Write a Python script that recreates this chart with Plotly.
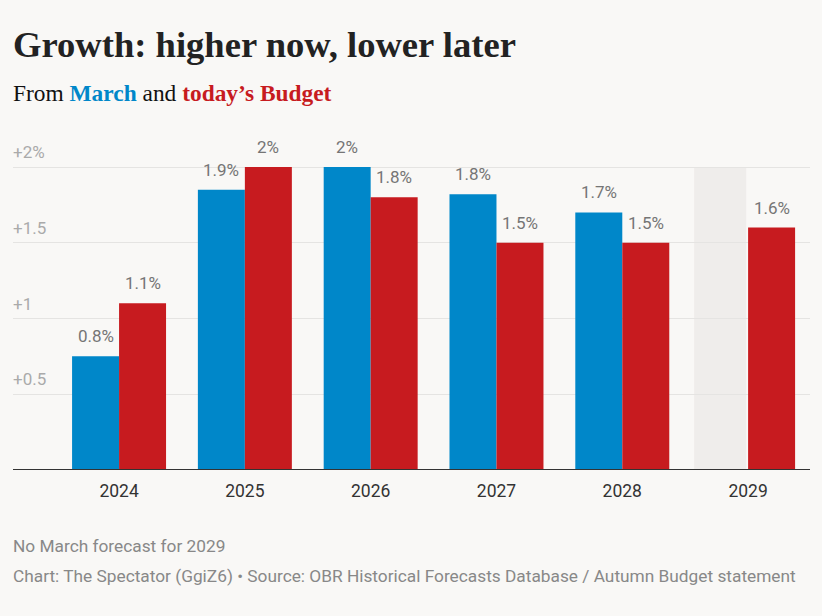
import plotly.graph_objects as go

years = ["2024", "2025", "2026", "2027", "2028", "2029"]
march = [0.75, 1.85, 2.0, 1.82, 1.7, None]
budget = [1.1, 2.0, 1.8, 1.5, 1.5, 1.6]
y_ticks = [0.5, 1.0, 1.5, 2.0]
y_tick_text = ["+0.5", "+1", "+1.5", "+2%"]

BLUE = "#0087c9"
RED = "#c71b1f"
BG = "#f9f8f6"
LABEL = "#757575"


def fmt(v):
    return f"{round(v, 1):g}%"


fig = go.Figure()
fig.add_trace(go.Bar(x=years, y=march, name="March", marker_color=BLUE,
                     marker_line_width=0))
fig.add_trace(go.Bar(x=years, y=budget, name="Budget", marker_color=RED,
                     marker_line_width=0))

# grey placeholder for the missing March forecast in 2029
fig.add_shape(type="rect", xref="x", yref="y", x0=4.571, x1=4.985, y0=0, y1=2.0,
              fillcolor="#efedeb", line_width=0, layer="below")
# baseline
fig.add_shape(type="line", xref="paper", yref="y", x0=0, x1=1, y0=0, y1=0,
              line=dict(color="#333333", width=2))

annotations = []
# value labels (category axis -> use category index)
for series, shift in ((march, -23.5), (budget, 23.5)):
    for i, v in enumerate(series):
        if v is None:
            continue
        annotations.append(dict(
            x=i, y=v, xref="x", yref="y", text=fmt(v), showarrow=False,
            xanchor="center", yanchor="bottom", xshift=shift, yshift=8,
            font=dict(family="Roboto", size=17, color=LABEL)))
# y tick labels
for tv, tt in zip(y_ticks, y_tick_text):
    annotations.append(dict(
        x=0, y=tv, xref="paper", yref="y", text=tt, showarrow=False,
        xanchor="left", yanchor="bottom", yshift=3, xshift=-2,
        font=dict(family="Roboto", size=17, color="#aaaaaa")))

annotations += [
    dict(text="<b>Growth: higher now, lower later</b>", xref="paper", yref="paper",
         x=0, y=1.0, xanchor="left", yanchor="bottom", yshift=91, xshift=-2,
         showarrow=False,
         font=dict(family="Liberation Serif", size=36.6, color="#222222")),
    dict(text="From <b><span style='color:%s'>March</span></b> and <b><span style='color:%s'>today’s Budget</span></b>" % (BLUE, RED),
         xref="paper", yref="paper", x=0, y=1.0, xanchor="left", yanchor="bottom",
         yshift=50, xshift=-2, showarrow=False,
         font=dict(family="Liberation Serif", size=23.4, color="#111111")),
    dict(text="No March forecast for 2029", xref="paper", yref="paper",
         x=0, y=0, xanchor="left", yanchor="top", yshift=-64, xshift=-2,
         showarrow=False,
         font=dict(family="Roboto", size=17.3, color="#888888")),
    dict(text="Chart: The Spectator (GgiZ6) • Source: OBR Historical Forecasts Database / Autumn Budget statement",
         xref="paper", yref="paper", x=0, y=0, xanchor="left", yanchor="top",
         yshift=-94, xshift=-2, showarrow=False,
         font=dict(family="Roboto", size=17.3, color="#888888")),
]

fig.update_layout(
    width=822, height=616,
    paper_bgcolor=BG, plot_bgcolor=BG,
    margin=dict(l=13, r=12, t=158, b=146),
    showlegend=False,
    barmode="group", bargap=0.253, bargroupgap=0,
    xaxis=dict(
        type="category", range=[-0.843, 5.492],
        showgrid=False, showline=False, zeroline=False,
        ticks="", tickfont=dict(family="Roboto", size=17.5, color="#333333"),
        ticklabelstandoff=8,
    ),
    yaxis=dict(
        range=[0, 2.0594], tickvals=y_ticks, showticklabels=False,
        showgrid=True, gridcolor="#e5e4e2", gridwidth=1,
        zeroline=False, showline=False, ticks="",
    ),
    annotations=annotations,
)

fig.write_html("out.html")
